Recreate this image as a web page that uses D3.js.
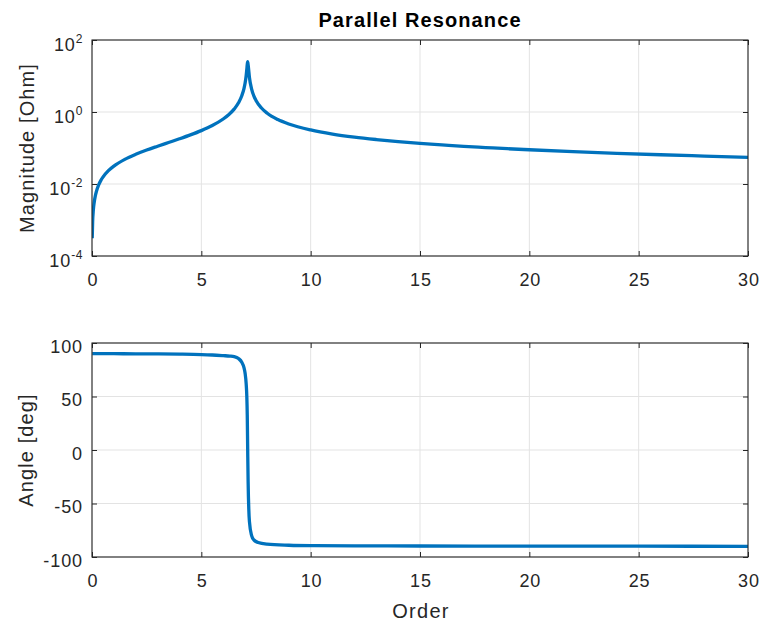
<!DOCTYPE html>
<html>
<head>
<meta charset="utf-8">
<script src="https://cdn.jsdelivr.net/npm/d3@7"></script>
<style>
  html, body { margin: 0; padding: 0; background: #fff; }
  svg { display: block; font-family: "Liberation Sans", Arial, Helvetica, sans-serif; }
</style>
</head>
<body>
<svg id="chart" width="760" height="621"></svg>
<script>
// Harmonic order samples and impedance magnitude [Ohm]
const orderMag = [0.01, 0.03, 0.06, 0.1, 0.15, 0.2, 0.3, 0.4, 0.5, 0.75, 1, 1.5, 2, 2.5, 3, 3.5, 4, 4.5, 5, 5.5, 6, 6.25, 6.5, 6.7, 6.85, 6.95, 7.0, 7.05, 7.08, 7.1, 7.12, 7.15, 7.2, 7.3, 7.4, 7.5, 7.75, 8, 8.5, 9, 10, 11, 12, 13, 14, 15, 16, 17, 18, 19, 20, 22, 24, 26, 28, 30];
const magnitude = [0.00031, 0.00093, 0.00185, 0.00308, 0.00462, 0.00616, 0.00927, 0.0124, 0.0155, 0.0234, 0.0314, 0.0484, 0.0669, 0.0878, 0.112, 0.142, 0.180, 0.231, 0.304, 0.420, 0.638, 0.839, 1.20, 1.80, 2.83, 4.48, 6.26, 10.2, 15.4, 21.0, 25.0, 18.1, 9.1, 4.32, 2.82, 2.10, 1.29, 0.938, 0.616, 0.464, 0.317, 0.244, 0.201, 0.172, 0.150, 0.134, 0.122, 0.111, 0.103, 0.0956, 0.0894, 0.0793, 0.0713, 0.0649, 0.0596, 0.0548];

// Harmonic order samples and impedance angle [deg]
const orderAng = [0.01, 1, 2, 3, 4, 5, 5.5, 6, 6.3, 6.5, 6.7, 6.85, 6.95, 7.0, 7.05, 7.08, 7.1, 7.12, 7.14, 7.17, 7.2, 7.3, 7.4, 7.6, 8, 9, 10, 12, 15, 20, 25, 30];
const angle = [90, 90, 89.9, 89.8, 89.6, 89.2, 88.8, 88.2, 87.8, 87.3, 85.5, 82, 77, 72, 62, 50, 33, 0, -30, -55, -67, -80, -84, -86.5, -88, -89, -89.4, -89.6, -89.7, -89.8, -89.9, -90];

// Axis ticks
const xTicks = [0, 5, 10, 15, 20, 25, 30];
const magTicks = [-4, -2, 0, 2];           // exponents of 10
const angTicks = [-100, -50, 0, 50, 100];

const svg = d3.select("#chart");
const axisColor = "#262626";
const gridColor = "#e3e3e3";
const lineColor = "#0072BD";

const left = 92, right = 748;
const top1 = 40, bottom1 = 256;
const top2 = 343, bottom2 = 557;

const x = d3.scaleLinear().domain([0, 30]).range([left, right]);
const yMag = d3.scaleLog().domain([1e-4, 1e2]).range([bottom1, top1]);
const yAng = d3.scaleLinear().domain([-100, 100]).range([bottom2, top2]);

function panel(id, y, yTickVals, top, bottom, xs, ys) {
  const g = svg.append("g").attr("id", id);

  // grid
  g.append("g").selectAll("line.vx").data(xTicks).join("line")
    .attr("x1", d => x(d)).attr("x2", d => x(d))
    .attr("y1", top).attr("y2", bottom)
    .attr("stroke", gridColor).attr("stroke-width", 1);
  g.append("g").selectAll("line.hy").data(yTickVals).join("line")
    .attr("x1", left).attr("x2", right)
    .attr("y1", d => y(d)).attr("y2", d => y(d))
    .attr("stroke", gridColor).attr("stroke-width", 1);

  // data line
  const clipId = id + "-clip";
  g.append("clipPath").attr("id", clipId).append("rect")
    .attr("x", left).attr("y", top - 2).attr("width", right - left).attr("height", bottom - top + 4);
  const pts = xs.map((v, i) => [v, ys[i]]);
  g.append("path")
    .attr("clip-path", `url(#${clipId})`)
    .attr("d", d3.line().x(d => x(d[0])).y(d => y(d[1])).curve(d3.curveMonotoneX)(pts))
    .attr("fill", "none").attr("stroke", lineColor).attr("stroke-width", 3.3)
    .attr("stroke-linejoin", "round").attr("stroke-linecap", "butt");

  // inward ticks on all four sides
  const bx = g.append("g").attr("transform", `translate(0,${bottom})`)
    .call(d3.axisBottom(x).tickValues(xTicks).tickSize(-5).tickSizeOuter(0).tickPadding(17).tickFormat(d3.format("d")));
  const tx = g.append("g").attr("transform", `translate(0,${top})`)
    .call(d3.axisTop(x).tickValues(xTicks).tickSize(-5).tickSizeOuter(0).tickFormat(""));
  const ly = g.append("g").attr("transform", `translate(${left},0)`)
    .call(d3.axisLeft(y).tickValues(yTickVals).tickSize(-5).tickSizeOuter(0).tickFormat(""));
  const ry = g.append("g").attr("transform", `translate(${right},0)`)
    .call(d3.axisRight(y).tickValues(yTickVals).tickSize(-5).tickSizeOuter(0).tickFormat(""));
  [bx, tx, ly, ry].forEach(a => {
    a.select(".domain").remove();
    a.selectAll(".tick line").attr("stroke", axisColor).attr("stroke-width", 1);
  });
  bx.selectAll(".tick text")
    .attr("fill", axisColor).attr("font-size", 18).attr("letter-spacing", "0.9px")
    .attr("font-family", "Liberation Sans, Arial, sans-serif")
    .attr("dx", "0.45px");

  // box
  g.append("rect").attr("x", left).attr("y", top)
    .attr("width", right - left).attr("height", bottom - top)
    .attr("fill", "none").attr("stroke", axisColor).attr("stroke-width", 1.1);
  return g;
}

// Magnitude panel (log scale)
const magVals = magTicks.map(e => Math.pow(10, e));
const g1 = panel("mag", yMag, magVals, top1, bottom1, orderMag, magnitude);
const magLabels = g1.append("g").selectAll("text").data(magTicks).join("text")
  .attr("x", left - 9)
  .attr("y", e => yMag(Math.pow(10, e)) + 11)
  .attr("text-anchor", "end")
  .attr("fill", axisColor).attr("font-size", 18).attr("letter-spacing", "0.9px");
magLabels.append("tspan").text("10");
magLabels.append("tspan").attr("dy", -8.5).attr("font-size", 12).attr("letter-spacing", "0.6px")
  .text(e => e < 0 ? "-" + Math.abs(e) : String(e));

// Angle panel (linear)
const g2 = panel("ang", yAng, angTicks, top2, bottom2, orderAng, angle);
g2.append("g").selectAll("text").data(angTicks).join("text")
  .attr("x", left - 9)
  .attr("y", d => yAng(d) + 9.8)
  .attr("text-anchor", "end")
  .attr("fill", axisColor).attr("font-size", 18).attr("letter-spacing", "0.9px")
  .text(d => String(d));

// Titles and axis labels
svg.append("text").attr("x", 420).attr("y", 26.5).attr("text-anchor", "middle")
  .attr("font-size", 20).attr("font-weight", "bold").attr("letter-spacing", "1.1px")
  .attr("fill", "#000").text("Parallel Resonance");

svg.append("text").attr("x", 421).attr("y", 618).attr("text-anchor", "middle")
  .attr("font-size", 20).attr("letter-spacing", "1.3px")
  .attr("fill", axisColor).text("Order");

svg.append("text").attr("transform", `translate(33.5,${(top1 + bottom1) / 2}) rotate(-90)`)
  .attr("text-anchor", "middle").attr("font-size", 20).attr("letter-spacing", "1.1px")
  .attr("fill", axisColor).text("Magnitude [Ohm]");

svg.append("text").attr("transform", `translate(33,${(top2 + bottom2) / 2}) rotate(-90)`)
  .attr("text-anchor", "middle").attr("font-size", 20).attr("letter-spacing", "1.1px")
  .attr("fill", axisColor).text("Angle [deg]");
</script>
</body>
</html>
